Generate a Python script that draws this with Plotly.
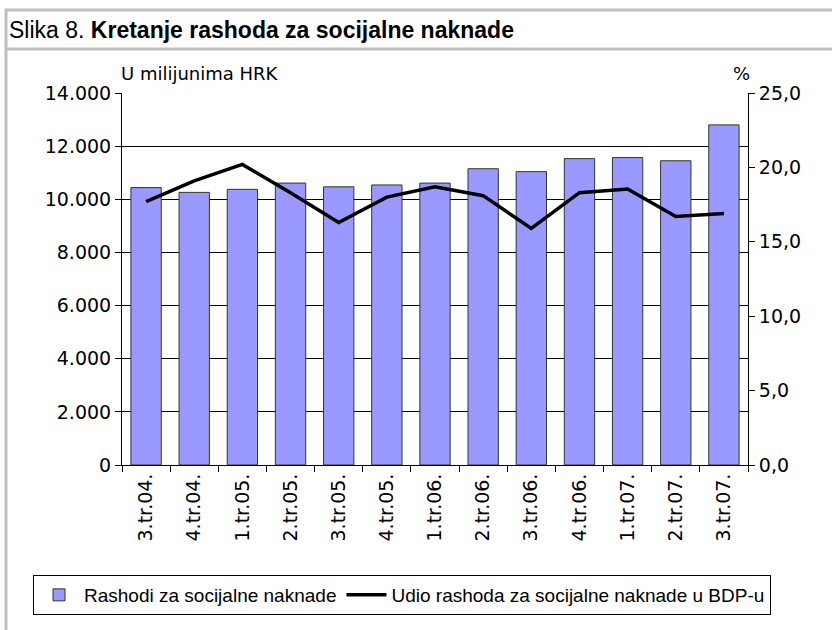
import plotly.graph_objects as go

kvartali = ['3.tr.04.', '4.tr.04.', '1.tr.05.', '2.tr.05.', '3.tr.05.', '4.tr.05.', '1.tr.06.',
            '2.tr.06.', '3.tr.06.', '4.tr.06.', '1.tr.07.', '2.tr.07.', '3.tr.07.']
rashodi = [10440, 10260, 10375, 10610, 10470, 10540, 10610, 11150, 11040, 11530, 11570, 11450, 12800]
udio_bdp = [17.7, 19.1, 20.2, 18.3, 16.3, 18.0, 18.7, 18.1, 15.9, 18.3, 18.55, 16.7, 16.9]

FONT = 'DejaVu Sans, Verdana, sans-serif'
FONT2 = 'Liberation Sans, Arial, sans-serif'

# pikselne granice podrucja grafa
L, R, T, B = 122, 748, 93, 465
W, H = 832, 630


def px(xp):
    return (xp - L) / (R - L)


def py(yp):
    return (B - yp) / (B - T)


fig = go.Figure()

fig.add_trace(go.Bar(
    x=kvartali, y=rashodi,
    name='Rashodi za socijalne naknade',
    marker=dict(color='#9999ff', line=dict(color='#333333', width=1)),
    yaxis='y'
))

fig.add_trace(go.Scatter(
    x=kvartali, y=udio_bdp,
    mode='lines',
    name='Udio rashoda za socijalne naknade u BDP-u',
    line=dict(color='black', width=3.5),
    yaxis='y2'
))

okvir = '#c0c0c0'
shapes = [
    dict(type='line', xref='paper', yref='paper', x0=px(5), x1=px(834), y0=py(10), y1=py(10),
         line=dict(color=okvir, width=3)),
    dict(type='line', xref='paper', yref='paper', x0=px(5), x1=px(834), y0=py(49), y1=py(49),
         line=dict(color=okvir, width=3)),
    dict(type='line', xref='paper', yref='paper', x0=px(6), x1=px(6), y0=py(9), y1=py(632),
         line=dict(color=okvir, width=3)),
]

annotations = [
    dict(text='Slika 8. <b>Kretanje rashoda za socijalne naknade</b>', xref='paper', yref='paper',
         x=px(7), y=py(30), xanchor='left', yanchor='middle', showarrow=False,
         font=dict(size=23, color='black', family=FONT2)),
    dict(text='U milijunima HRK', xref='paper', yref='paper', x=px(119), y=py(86),
         xanchor='left', yanchor='bottom', showarrow=False, font=dict(size=18, color='black')),
    dict(text='%', xref='paper', yref='paper', x=px(752), y=py(86),
         xanchor='right', yanchor='bottom', showarrow=False, font=dict(size=18, color='black')),
]

fig.update_layout(
    width=W, height=H,
    margin=dict(l=L, r=W - R, t=T, b=H - B),
    paper_bgcolor='white', plot_bgcolor='white',
    font=dict(family=FONT, size=19, color='black'),
    separators=',.',
    bargap=0.37,
    showlegend=True,
    legend=dict(orientation='h', x=px(33), y=py(575), xanchor='left', yanchor='top',
                bordercolor='black', borderwidth=1, font=dict(size=19, family=FONT2),
                itemwidth=40, tracegroupgap=0),
    xaxis=dict(type='category', showline=True, linecolor='black', linewidth=1, mirror=False,
               ticks='outside', tickson='boundaries', ticklen=6, tickcolor='black',
               tickangle=-90, showgrid=False, tickfont=dict(size=19)),
    yaxis=dict(range=[0, 14000], dtick=2000, tickformat=',d', showline=True, linecolor='black',
               ticks='outside', ticklen=6, tickcolor='black', showgrid=True, gridcolor='black',
               gridwidth=1, zeroline=False, tickfont=dict(size=19)),
    yaxis2=dict(range=[0, 25], dtick=5, tickformat='.1f', overlaying='y', side='right',
                showline=True, linecolor='black', ticks='outside', ticklen=6, tickcolor='black',
                showgrid=False, zeroline=False, tickfont=dict(size=19)),
    shapes=shapes,
    annotations=annotations,
)

fig.write_html('out.html', config={'displayModeBar': False},
               post_script="document.body.style.margin='0';")
